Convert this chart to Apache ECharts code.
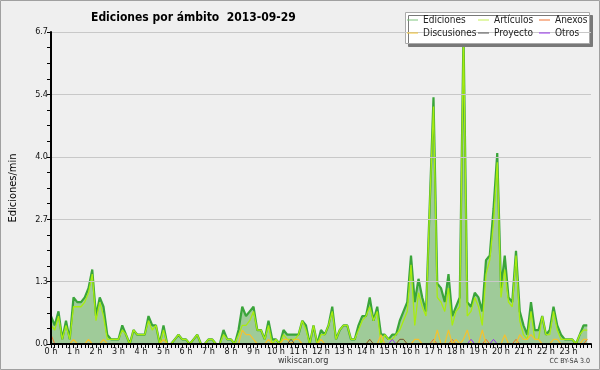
<!DOCTYPE html>
<html><head><meta charset="utf-8">
<script src="https://cdn.jsdelivr.net/npm/echarts/dist/echarts.min.js"></script>
<style>html,body{margin:0;padding:0;background:#efefef}#c{width:600px;height:370px}</style>
</head><body><div id="c"></div>
<script>
// 10-minute bins (0:00 ... 23:50), edits per minute
const ediciones = [
 0.6,0.4,0.7,0.1,0.5,0.1,1.0,0.9,0.9,1.0,1.2,1.6,
 0.6,1.0,0.8,0.2,0.1,0.1,0.1,0.4,0.2,0,0.3,0.2,
 0.2,0.2,0.6,0.4,0.4,0,0.4,0,0,0.1,0.2,0.1,
 0.1,0,0.1,0.2,0,0,0.1,0.1,0,0,0.3,0.1,
 0.1,0,0.3,0.8,0.6,0.7,0.8,0.3,0.3,0.1,0.5,0.1,
 0.1,0,0.3,0.2,0.2,0.2,0.2,0.5,0.4,0,0.4,0,
 0.3,0.2,0.4,0.8,0.1,0.3,0.4,0.4,0.1,0.1,0.4,0.6,
 0.6,1.0,0.5,0.8,0.2,0.2,0.1,0.2,0.2,0.5,0.7,0.9,
 1.9,0.9,1.4,1.0,0.7,3.0,5.3,1.3,1.2,0.9,1.5,0.6,
 0.8,1.0,6.7,0.9,0.8,1.1,1.0,0.7,1.8,1.9,2.9,4.1,
 1.2,1.9,1.0,0.9,2.0,0.7,0.4,0.2,0.9,0.3,0.3,0.6,
 0.2,0.3,0.8,0.4,0.2,0.1,0.1,0.1,0,0.2,0.4,0.4
];
const articulos = [
 0.4,0.3,0.6,0.1,0.4,0.1,0.8,0.8,0.8,0.9,1.1,1.5,
 0.5,0.9,0.6,0.1,0.1,0.1,0.1,0.3,0.2,0,0.3,0.2,
 0.2,0.2,0.5,0.3,0.4,0,0.3,0,0,0.1,0.2,0.1,
 0.1,0,0.1,0.2,0,0,0.1,0.1,0,0,0.2,0.1,
 0.1,0,0.2,0.4,0.4,0.5,0.7,0.3,0.3,0.1,0.4,0,
 0.1,0,0.2,0.1,0.1,0.1,0.2,0.5,0.3,0,0.4,0,
 0.2,0.2,0.4,0.7,0.1,0.3,0.4,0.4,0.1,0.1,0.3,0.5,
 0.6,0.8,0.5,0.7,0,0.2,0.1,0.1,0.2,0.3,0.5,0.7,
 1.7,0.4,1.1,0.8,0.6,3.0,5.1,1.0,0.9,0.7,1.2,0.4,
 0.7,0.8,6.6,0.6,0.7,1.0,0.8,0.4,1.5,1.8,2.6,3.9,
 1.0,1.6,0.9,0.8,1.9,0.5,0.2,0.1,0.7,0.1,0.1,0.6,
 0.2,0.2,0.7,0.3,0.1,0.1,0.1,0.1,0,0.2,0.3,0.3
];
const anexos = [
 0.2,0,0,0,0,0,0,0,0,0,0,0,
 0,0,0,0,0,0,0,0,0,0,0,0,
 0,0,0,0,0,0,0,0,0,0,0,0,
 0,0,0,0,0,0,0,0,0,0,0,0,
 0,0,0,0,0,0,0,0,0,0,0,0,
 0,0,0,0,0,0,0,0,0,0,0,0,
 0,0,0,0,0,0,0,0,0,0,0,0,
 0,0,0,0,0,0,0,0,0,0,0,0,
 0,0,0,0,0,0,0.1,0,0,0,0,0.1,
 0,0,0,0,0,0,0,0,0.1,0,0,0,
 0,0,0,0,0.1,0,0,0,0,0,0,0,
 0,0,0,0,0,0,0,0,0,0,0,0.1
];
const discusiones = [
 0,0,0,0,0,0,0.1,0,0,0,0.1,0,
 0,0,0.1,0,0,0,0,0,0,0,0,0,
 0,0,0,0,0,0,0.1,0,0,0,0,0,
 0,0,0,0,0,0,0,0,0,0,0,0,
 0,0,0,0.3,0.2,0.2,0.1,0,0,0,0.1,0,
 0,0,0.1,0.1,0,0.1,0.1,0,0,0,0,0,
 0.1,0,0,0,0,0,0,0,0,0,0,0,
 0,0.1,0,0,0.2,0,0,0,0,0.1,0.1,0,
 0,0.1,0.1,0,0,0,0,0.3,0,0,0.3,0,
 0.1,0,0.1,0.3,0,0,0,0.3,0,0,0,0,
 0,0.2,0,0,0,0.2,0.1,0.1,0.2,0.1,0.1,0,
 0,0,0.1,0.1,0,0,0,0,0,0,0.1,0.1
];
const proyecto = [
 0,0,0,0,0,0,0,0,0,0,0,0,
 0,0,0,0,0,0,0,0,0,0,0,0,
 0,0,0,0,0,0,0,0,0,0,0,0,
 0,0,0,0,0,0,0,0,0,0,0,0,
 0,0,0,0,0,0,0,0,0,0,0,0,
 0,0,0,0,0.1,0,0,0,0,0,0,0,
 0,0,0,0,0,0,0,0,0,0,0,0,
 0,0.1,0,0,0,0,0,0,0,0.1,0.1,0,
 0,0,0,0,0,0,0,0,0,0,0,0,
 0,0,0,0,0,0,0,0,0,0,0,0,
 0,0,0,0,0,0,0,0,0,0,0,0,
 0,0,0,0,0,0,0,0,0,0,0,0
];
const otros = [
 0,0,0,0,0,0,0,0,0,0,0,0,
 0,0,0,0,0,0,0,0,0,0,0,0,
 0,0,0,0,0,0,0,0,0,0,0,0,
 0,0,0,0,0,0,0,0,0,0,0,0,
 0,0,0,0,0,0,0,0,0,0,0,0,
 0,0,0,0,0,0,0,0,0,0,0,0,
 0,0,0,0,0,0,0,0,0,0,0,0,
 0,0,0,0,0,0,0,0.1,0,0,0,0,
 0,0,0,0,0,0,0,0,0,0,0,0,
 0,0,0,0,0.1,0,0,0,0,0,0.1,0,
 0,0,0,0,0,0,0,0,0,0,0,0,
 0,0,0,0,0,0,0,0,0,0,0,0
];
const seriesNames = ['Ediciones','Artículos','Anexos','Discusiones','Proyecto','Otros'];
const titleText = 'Ediciones por ámbito  2013-09-29';
const yName = 'Ediciones/min';

const F = '"DejaVu Sans Condensed","DejaVu Sans",sans-serif';
const toPts = arr => arr.map((v, i) => [i / 6, v]);
const colors = {
  'Ediciones': '#3aa53a', 'Artículos': '#a8ec10', 'Anexos': '#f07030',
  'Discusiones': '#f2c230', 'Proyecto': '#555555', 'Otros': '#9933ee'
};
const widths = {
  'Ediciones': 2.2, 'Artículos': 1.3, 'Anexos': 1, 'Discusiones': 1.2, 'Proyecto': 1, 'Otros': 1
};
const dataMap = {
  'Ediciones': ediciones, 'Artículos': articulos, 'Anexos': anexos,
  'Discusiones': discusiones, 'Proyecto': proyecto, 'Otros': otros
};

const chart = echarts.init(document.getElementById('c'), null, {renderer: 'canvas'});
const legendBase = {
  orient: 'vertical', top: 15, padding: 0, itemGap: 3, itemWidth: 11, itemHeight: 1,
  icon: 'rect', selectedMode: false, z: 6,
  textStyle: {fontFamily: F, fontSize: 10, color: '#222', lineHeight: 10}
};
chart.setOption({
  animation: false,
  backgroundColor: '#efefef',
  textStyle: {fontFamily: F},
  title: {
    text: titleText, left: 86, top: 7,
    textStyle: {fontFamily: F, fontSize: 12, fontWeight: 'bold', color: '#000'}
  },
  legend: [
    Object.assign({}, legendBase, {left: 407, data: [{name: 'Ediciones', itemStyle: {color: '#7cc47c'}}, 'Discusiones']}),
    Object.assign({}, legendBase, {left: 478, data: [{name: 'Artículos', itemStyle: {color: '#c4ee55'}}, 'Proyecto']}),
    Object.assign({}, legendBase, {left: 539, data: ['Anexos', 'Otros']})
  ],
  grid: {left: 45, right: 9, top: 32, bottom: 26},
  xAxis: {
    type: 'value', min: 0, max: 24, interval: 1, z: 5,
    axisLine: {show: true, lineStyle: {color: '#000', width: 2}},
    axisTick: {show: true, length: 4, lineStyle: {color: '#000'}},
    minorTick: {show: true, splitNumber: 6, length: 4, lineStyle: {color: '#000'}},
    splitLine: {show: false},
    axisLabel: {fontFamily: F, fontSize: 9, color: '#111', margin: 3,
      formatter: v => (v < 24 ? v + ' h' : '')}
  },
  yAxis: {
    type: 'value', min: 0, max: 6.7, interval: 1.34, z: 5,
    name: yName, nameLocation: 'middle', nameGap: 32, nameRotate: 90,
    nameTextStyle: {fontFamily: F, fontSize: 11, color: '#000'},
    axisLine: {show: true, lineStyle: {color: '#000', width: 2}},
    axisTick: {show: true, length: 4, lineStyle: {color: '#000'}},
    minorTick: {show: true, splitNumber: 4, length: 4, lineStyle: {color: '#000'}},
    splitLine: {show: true, lineStyle: {color: '#c8c8c8', width: 1}},
    axisLabel: {fontFamily: F, fontSize: 9, color: '#111', margin: 3,
      formatter: v => v.toFixed(1)}
  },
  graphic: [
    {type: 'rect', z: 0, silent: true, shape: {x: 0.5, y: 0.5, width: 599, height: 369},
     style: {fill: 'none', stroke: '#a0a0a0', lineWidth: 1}},
    {type: 'rect', z: 5, silent: true, shape: {x: 405.5, y: 12.5, width: 184, height: 31},
     style: {fill: '#ffffff', stroke: '#aaaaaa', lineWidth: 1,
       shadowColor: 'rgba(120,120,120,1)', shadowOffsetX: 3, shadowOffsetY: 3, shadowBlur: 0}},
    {type: 'text', z: 5, left: 278, top: 356, silent: true,
     style: {text: 'wikiscan.org', fontFamily: F, fontSize: 9, fill: '#333'}},
    {type: 'text', z: 5, right: 10, top: 358, silent: true,
     style: {text: 'CC BY-SA 3.0', fontFamily: F, fontSize: 7, fill: '#333'}}
  ],
  series: seriesNames.map(n => {
    const s = {
      name: n, type: 'line', data: toPts(dataMap[n]), symbol: 'none', showSymbol: false,
      lineStyle: {color: colors[n], width: widths[n]},
      itemStyle: {color: colors[n]}, z: 2
    };
    if (n === 'Ediciones') s.areaStyle = {color: '#9fcb99', opacity: 1};
    return s;
  })
});
</script></body></html>
